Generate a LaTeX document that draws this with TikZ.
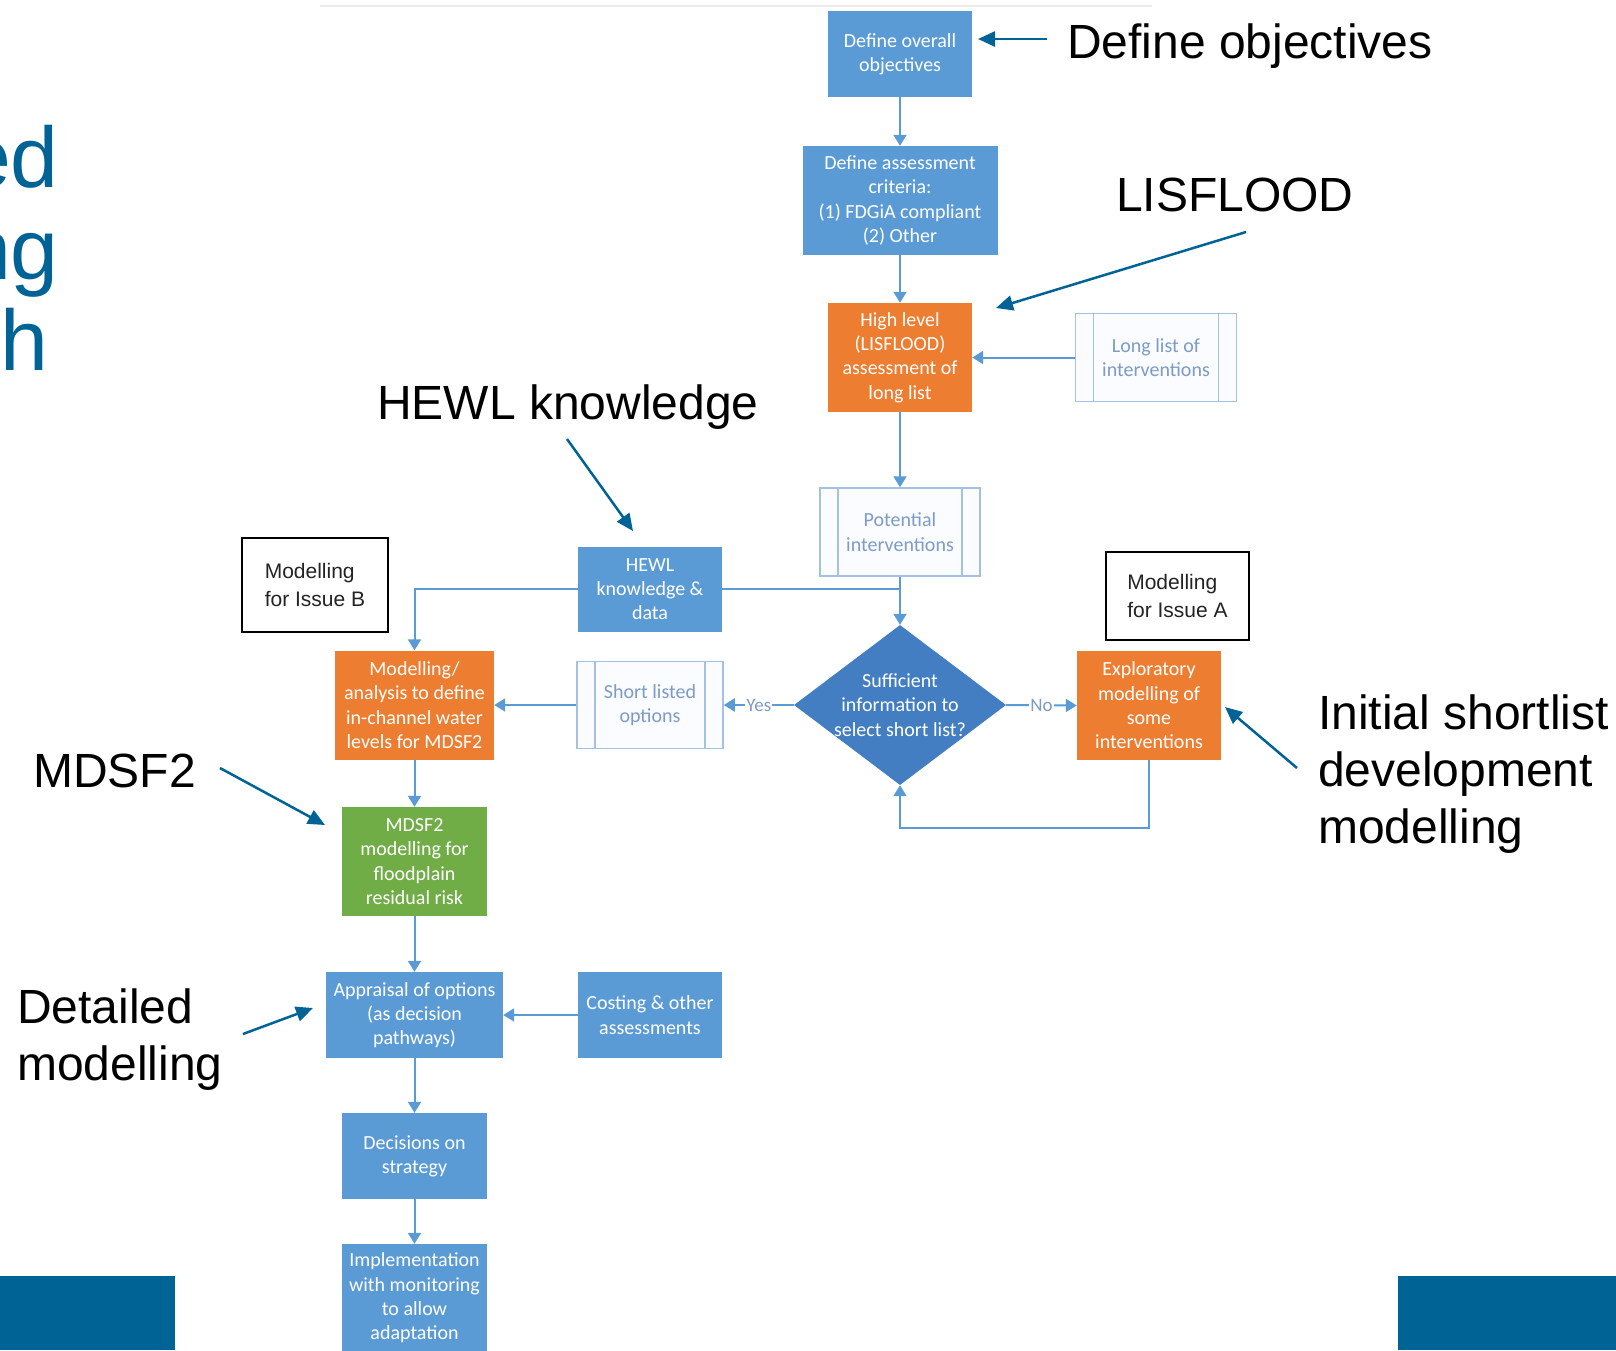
\documentclass[tikz,border=0pt]{standalone}
\usepackage{fontspec}
\setmainfont{Liberation Sans}
\newfontfamily\carlito{Carlito}
\usetikzlibrary{arrows.meta,shapes.geometric,calc}
\definecolor{boxblue}{RGB}{91,155,213}
\definecolor{boxorange}{RGB}{237,125,49}
\definecolor{boxgreen}{RGB}{112,173,71}
\definecolor{diablue}{RGB}{66,126,193}
\definecolor{linkblue}{RGB}{91,155,213}
\definecolor{annblue}{RGB}{0,99,150}
\definecolor{subfill}{RGB}{250,252,255}
\definecolor{subdraw}{RGB}{165,192,226}
\definecolor{subtext}{RGB}{125,155,198}
\definecolor{issuetext}{RGB}{35,35,35}
\begin{document}
\begin{tikzpicture}[x=1pt,y=-1pt,
  box/.style={rectangle, inner sep=2pt, align=center, text=white,
    font=\carlito\fontsize{20}{24.3}\selectfont},
  bluebox/.style={box, fill=boxblue},
  orangebox/.style={box, fill=boxorange},
  greenbox/.style={box, fill=boxgreen},
  subbox/.style={box, fill=subfill, draw=subdraw, line width=1.5pt, text=subtext,
    path picture={
      \draw[subdraw, line width=1.5pt]
        ([xshift=18pt]path picture bounding box.north west) -- ([xshift=18pt]path picture bounding box.south west)
        ([xshift=-18pt]path picture bounding box.north east) -- ([xshift=-18pt]path picture bounding box.south east);}},
  decision/.style={diamond, fill=diablue, inner sep=0pt},
  issuebox/.style={rectangle, draw=black, line width=1.8pt, align=left, text=issuetext,
    font=\fontsize{21}{28}\selectfont, anchor=center},
  link/.style={draw=linkblue, line width=2pt, -{Triangle[length=11pt,width=13pt]}},
  plainlink/.style={draw=linkblue, line width=2pt},
  flowlabel/.style={fill=white, inner sep=1pt, text=subtext, font=\carlito\fontsize{19}{22}\selectfont},
  ann/.style={draw=annblue, line width=2.5pt, -{Triangle[length=17pt,width=15pt]}},
  anntext/.style={anchor=base west, inner sep=0pt, align=left, font=\fontsize{48}{57}\selectfont},
  titletext/.style={anchor=base east, inner sep=0pt, text=annblue, font=\fontsize{86}{92}\selectfont}
]
\useasboundingbox (0,0) rectangle (1616,1350);
\clip (0,0) rectangle (1616,1350);
\fill[white] (0,0) rectangle (1616,1350);

% faint top edge of the pasted chart
\draw[black!8, line width=1.5pt] (320,6) -- (1152,6);

% partial title at left
\node[titletext] (t1) at (59,187) {ed};
\node[titletext] (t2) at (59,279) {ng};
\node[titletext] (t3) at (49,370) {h};

% bottom bars
\fill[annblue] (0,1276) rectangle (175,1350);
\fill[annblue] (1398,1276) rectangle (1616,1350);

% flowchart nodes
\node[bluebox, minimum width=144pt, minimum height=86pt] (obj) at (900,54) {Define overall\\objectives};
\node[bluebox, minimum width=195pt, minimum height=109pt] (crit) at (900,200.5) {Define assessment\\criteria:\\(1) FDGiA compliant\\(2) Other};
\node[orangebox, minimum width=144pt, minimum height=109pt] (high) at (900,357.5) {High level\\(LISFLOOD)\\assessment of\\long list};
\node[subbox, minimum width=161pt, minimum height=88pt] (long) at (1156,357.5) {Long list of\\interventions};
\node[subbox, minimum width=160pt, minimum height=88pt] (pot) at (900,532) {Potential\\interventions};
\node[bluebox, minimum width=144pt, minimum height=85pt] (hewl) at (650,589) {HEWL\\knowledge \&\\data};
\node[decision, minimum width=212pt, minimum height=160pt] (dia) at (900,705) {};
\node[box, inner sep=0pt] (diat) at (900,705) {Sufficient\\information to\\select short list?};
\node[orangebox, minimum width=144pt, minimum height=109pt] (expl) at (1149,705.5) {Exploratory\\modelling of\\some\\interventions};
\node[subbox, minimum width=146pt, minimum height=87pt] (short) at (650,705) {Short listed\\options};
\node[orangebox, minimum width=159pt, minimum height=109pt] (model) at (414.5,705) {Modelling/\\analysis to define\\in-channel water\\levels for MDSF2};
\node[greenbox, minimum width=145pt, minimum height=109pt] (mdsf) at (414.5,861.5) {MDSF2\\modelling for\\floodplain\\residual risk};
\node[bluebox, minimum width=177pt, minimum height=86pt] (appr) at (414.5,1015) {Appraisal of options\\(as decision\\pathways)};
\node[bluebox, minimum width=144pt, minimum height=86pt] (cost) at (650,1015) {Costing \& other\\assessments};
\node[bluebox, minimum width=145pt, minimum height=86pt] (dec) at (414.5,1156) {Decisions on\\strategy};
\fill[boxblue] (414.5-72.5,1244) rectangle (414.5+72.5,1360);
\node[bluebox, fill=none, minimum width=145pt, minimum height=108pt] (impl) at (414.5,1298) {Implementation\\with monitoring\\to allow\\adaptation};

% issue boxes
\node[issuebox, inner xsep=20pt, minimum width=146pt, minimum height=94pt] (issB) at (315,585) {Modelling\\for Issue B};
\node[issuebox, inner xsep=20pt, minimum width=143pt, minimum height=88pt] (issA) at (1177.5,596) {Modelling\\for Issue A};

% connectors
\coordinate (jn) at (900,589);
\coordinate (lp1) at (1149,828);
\coordinate (lp2) at (900,828);
\draw[link] (obj) -- (crit);
\draw[link] (crit) -- (high);
\draw[link] (long) -- (high);
\draw[link] (high) -- (pot);
\draw[link] (pot) -- (dia);
\draw[plainlink] (hewl.east) -- (jn);
\draw[link] (hewl.west) -| (model.north);
\draw[link] (dia.west) -- node[flowlabel] (yes) {Yes} (short.east);
\draw[link] (short) -- (model);
\draw[link] (dia.east) -- node[flowlabel] (no) {No} (expl.west);
\draw[link] (expl.south) -- (lp1) -- (lp2) -- (dia.south);
\draw[link] (model) -- (mdsf);
\draw[link] (mdsf) -- (appr);
\draw[link] (cost) -- (appr);
\draw[link] (appr) -- (dec);
\draw[link] (dec) -- (impl.north);

% annotations (base = baseline of the last line)
\node[anntext] (aobj) at (1067,58) {Define objectives};
\node[anntext] (alis) at (1116,211) {LISFLOOD};
\node[anntext] (ahewl) at (377,419) {HEWL knowledge};
\node[anntext] (amdsf) at (33,787) {MDSF2};
\node[anntext] (ainit) at (1318,843) {Initial shortlist\\development\\modelling};
\node[anntext] (adet) at (17,1080) {Detailed\\modelling};

\coordinate (a1s) at (1047,39);  \coordinate (a1e) at (978,39);
\coordinate (a2s) at (1246,232); \coordinate (a2e) at (996,308);
\coordinate (a3s) at (567,439);  \coordinate (a3e) at (633,531);
\coordinate (a4s) at (220,768);  \coordinate (a4e) at (325,825);
\coordinate (a5s) at (1297,768); \coordinate (a5e) at (1225,707);
\coordinate (a6s) at (243,1034); \coordinate (a6e) at (313,1008);
\draw[ann] (a1s) -- (a1e);
\draw[ann] (a2s) -- (a2e);
\draw[ann] (a3s) -- (a3e);
\draw[ann] (a4s) -- (a4e);
\draw[ann] (a5s) -- (a5e);
\draw[ann] (a6s) -- (a6e);
\end{tikzpicture}
\end{document}
